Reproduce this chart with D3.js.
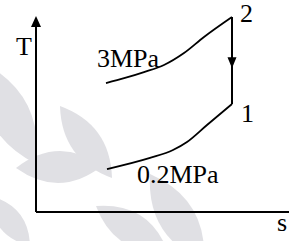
<!DOCTYPE html>
<html>
<head>
<meta charset="utf-8">
<script src="https://cdn.jsdelivr.net/npm/d3@7"></script>
<style>
  html, body { margin: 0; padding: 0; background: #fff; }
  svg { display: block; }
</style>
</head>
<body>
<svg id="chart" width="289" height="241"></svg>
<script>
// ---- data (s in arbitrary units, T in arbitrary units) ----
const highPressureS = [2.80, 3.56, 4.32, 5.12, 5.92, 6.72, 7.84];
const highPressureT = [6.58, 6.84, 7.14, 7.50, 8.11, 8.93, 9.95];
const lowPressureS  = [2.84, 4.56, 5.48, 6.04, 6.84, 7.84];
const lowPressureT  = [2.19, 2.76, 3.16, 3.57, 4.44, 5.51];
const curveLabels   = ["3MPa", "0.2MPa"];
const stateLabels   = ["1", "2"];
const axisLabels    = ["T", "s"];

const W = 289, H = 241;
const origin = { x: 36, y: 212 };
const svg = d3.select("#chart");
const FONT = "Liberation Serif, Times New Roman, serif";

const x = d3.scaleLinear().domain([0, 10]).range([origin.x, 286]);
const y = d3.scaleLinear().domain([0, 10]).range([origin.y, 16]);

// ---- faint watermark leaves (decoration) ----
const leaves = [
  [[60,106],[112,178],15],
  [[16,168],[102,166],16],
  [[-18,62],[36,164],20],
  [[150,174],[204,262],18],
  [[96,206],[168,252],16],
  [[-10,196],[30,246],12]
];
const wm = svg.append("g");
leaves.forEach(([a,b,w]) => {
  const mx = (a[0]+b[0])/2, my = (a[1]+b[1])/2;
  const dx = b[0]-a[0], dy = b[1]-a[1];
  const L = Math.hypot(dx,dy);
  const nx = -dy/L*w*2, ny = dx/L*w*2;
  const p = d3.path();
  p.moveTo(a[0],a[1]);
  p.quadraticCurveTo(mx+nx, my+ny, b[0], b[1]);
  p.quadraticCurveTo(mx-nx, my-ny, a[0], a[1]);
  wm.append("path").attr("d", p.toString()).attr("fill", "#e0e0e4");
});

// ---- axes ----
svg.append("line")
  .attr("x1", x(0)).attr("y1", y(0))
  .attr("x2", W).attr("y2", y(0))
  .attr("stroke", "#000").attr("stroke-width", 2);
svg.append("line")
  .attr("x1", x(0)).attr("y1", y(0))
  .attr("x2", x(0)).attr("y2", y(10) + 8)
  .attr("stroke", "#000").attr("stroke-width", 2);
svg.append("path")
  .attr("d", `M${x(0)},${y(10)} L${x(0)-5},${y(10)+11} L${x(0)+5},${y(10)+11} Z`)
  .attr("fill", "#000");

// ---- curves ----
const line = d3.line().x(d => x(d[0])).y(d => y(d[1])).curve(d3.curveMonotoneX);
const hp = d3.zip(highPressureS, highPressureT);
const lp = d3.zip(lowPressureS, lowPressureT);
[hp, lp].forEach(pts => {
  svg.append("path").attr("d", line(pts))
    .attr("fill", "none").attr("stroke", "#000").attr("stroke-width", 1.8);
});

// ---- process 2 -> 1 ----
const p2 = hp[hp.length-1], p1 = lp[lp.length-1];
svg.append("line")
  .attr("x1", x(p2[0])).attr("y1", y(p2[1]))
  .attr("x2", x(p1[0])).attr("y2", y(p1[1]))
  .attr("stroke", "#000").attr("stroke-width", 2);
const tipY = y(p2[1]) + (y(p1[1]) - y(p2[1])) * 0.59;
const ax = x(p2[0]);
svg.append("path")
  .attr("d", `M${ax},${tipY} L${ax-4.5},${tipY-11} L${ax+4.5},${tipY-11} Z`)
  .attr("fill", "#000");

// ---- labels ----
const fs = 26;
function label(tx, ty, str, anchor) {
  svg.append("text").attr("x", tx).attr("y", ty)
    .attr("text-anchor", anchor || "start")
    .style("font-family", FONT).style("font-size", fs + "px")
    .attr("fill", "#000").text(str);
}
label(24, 55, axisLabels[0], "middle");
label(277, 231, axisLabels[1]);
label(97, 67, curveLabels[0]);
label(137, 183, curveLabels[1]);
label(x(p2[0]) + 8, 22, stateLabels[1]);
label(x(p1[0]) + 9, 122, stateLabels[0]);
</script>
</body>
</html>
